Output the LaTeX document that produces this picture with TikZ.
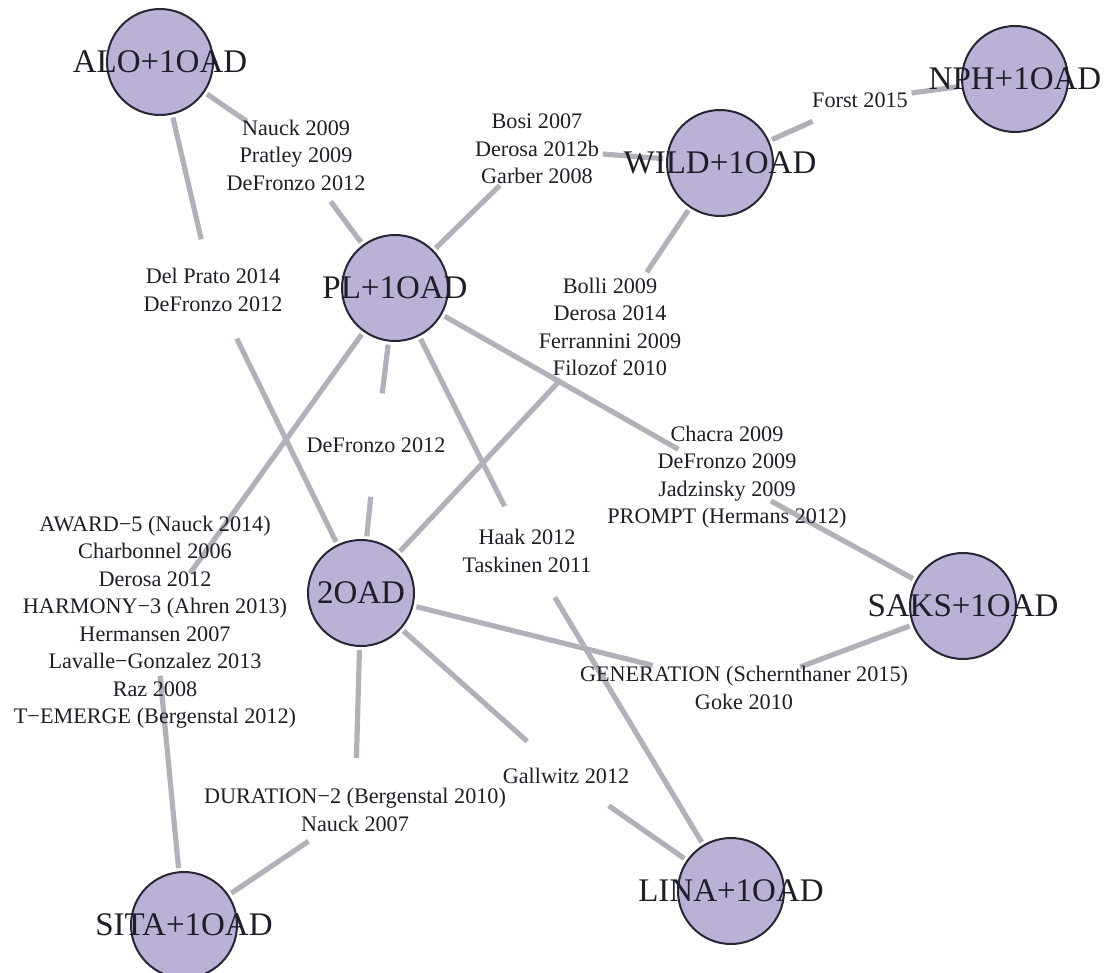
\documentclass[tikz,border=0pt]{standalone}
\usepackage{fontspec}
\setmainfont{Liberation Serif}
\usepackage{tikz}
\usetikzlibrary{backgrounds}
\definecolor{lav}{RGB}{187,176,214}
\definecolor{rim}{RGB}{40,38,52}
\definecolor{wire}{RGB}{178,177,186}
\definecolor{ink}{RGB}{30,30,40}
\tikzstyle{trt}=[circle,draw=rim,line width=1pt,fill=lav,minimum size=53pt,inner sep=0pt,outer sep=2pt]
\tikzstyle{study}=[align=center,text=ink,inner sep=0pt,font=\fontsize{11.1}{13.75}\selectfont]
\tikzstyle{link}=[draw=wire,line width=2.6pt]
\tikzset{every label/.style={text=ink,inner sep=0pt,font=\fontsize{16.5}{18}\selectfont}}

\begin{document}
\begin{tikzpicture}[x=0.5pt,y=-0.5pt]
    \useasboundingbox (0,0) rectangle (1108,973);
    % treatments
    \node[trt,label=center:ALO+1OAD] (alo) at (160,62) {};
    \node[trt,label=center:PL+1OAD] (pl) at (395,288) {};
    \node[trt,label=center:WILD+1OAD] (wild) at (720,163) {};
    \node[trt,label=center:NPH+1OAD] (nph) at (1015,79) {};
    \node[trt,label=center:2OAD] (oad2) at (361,593) {};
    \node[trt,label=center:SAKS+1OAD] (saks) at (963,606) {};
    \node[trt,label=center:LINA+1OAD] (lina) at (731,891) {};
    \node[trt,label=center:SITA+1OAD] (sita) at (184,925) {};
    % studies
    \node[study] (s1) at (296,155) {Nauck 2009\\Pratley 2009\\DeFronzo 2012};
    \node[study] (s2) at (213,290) {Del Prato 2014\\DeFronzo 2012};
    \node[study] (s3) at (537,149) {Bosi 2007\\Derosa 2012b\\Garber 2008};
    \node[study] (s4) at (860,100) {Forst 2015};
    \node[study] (s5) at (610,327) {Bolli 2009\\Derosa 2014\\Ferrannini 2009\\Filozof 2010};
    \node[study] (s6) at (727,477) {Chacra 2009\\DeFronzo 2009\\Jadzinsky 2009\\PROMPT (Hermans 2012)};
    \node[study] (s7) at (376,445) {DeFronzo 2012};
    \node[study] (s8) at (527,551) {Haak 2012\\Taskinen 2011};
    \node[study] (s9) at (155,622) {AWARD−5 (Nauck 2014)\\Charbonnel 2006\\Derosa 2012\\HARMONY−3 (Ahren 2013)\\Hermansen 2007\\Lavalle−Gonzalez 2013\\Raz 2008\\T−EMERGE (Bergenstal 2012)};
    \node[study] (s10) at (355,810) {DURATION−2 (Bergenstal 2010)\\Nauck 2007};
    \node[study] (s11) at (744,688) {GENERATION (Schernthaner 2015)\\Goke 2010};
    \node[study] (s12) at (566,776) {Gallwitz 2012};
    % comparisons
    \begin{scope}[on background layer]
    \draw[link,shorten >=30pt] (alo) -- (s1.center);
    \draw[link,shorten <=29pt] (s1.center) -- (pl);
    \draw[link,shorten >=26pt] (alo) -- (s2.center);
    \draw[link,shorten <=27pt] (s2.center) -- (oad2);
    \draw[link,shorten >=26pt] (pl) -- (s3.center);
    \draw[link,shorten <=33pt] (s3.center) -- (wild);
    \draw[link,shorten >=26pt] (wild) -- (s4.center);
    \draw[link,shorten <=26pt] (s4.center) -- (nph);
    \draw[link,shorten >=33pt] (wild) -- (s5.center);
    \draw[link,shorten <=36pt] (s5.center) -- (oad2);
    \draw[link,shorten >=28pt] (pl) -- (s6.center);
    \draw[link,shorten <=25pt] (s6.center) -- (saks);
    \draw[link,shorten >=26pt] (pl) -- (s7.center);
    \draw[link,shorten <=26pt] (s7.center) -- (oad2);
    \draw[link,shorten >=25pt] (pl) -- (s8.center);
    \draw[link,shorten <=27pt] (s8.center) -- (lina);
    \draw[link,shorten >=30pt] (pl) -- (s9.center);
    \draw[link,shorten <=27pt] (s9.center) -- (sita);
    \draw[link,shorten >=26pt] (oad2) -- (s10.center);
    \draw[link,shorten <=28pt] (s10.center) -- (sita);
    \draw[link,shorten >=47pt] (oad2) -- (s11.center);
    \draw[link,shorten <=30pt] (s11.center) -- (saks);
    \draw[link,shorten >=26pt] (oad2) -- (s12.center);
    \draw[link,shorten <=26pt] (s12.center) -- (lina);
    \end{scope}
\end{tikzpicture}
\end{document}
